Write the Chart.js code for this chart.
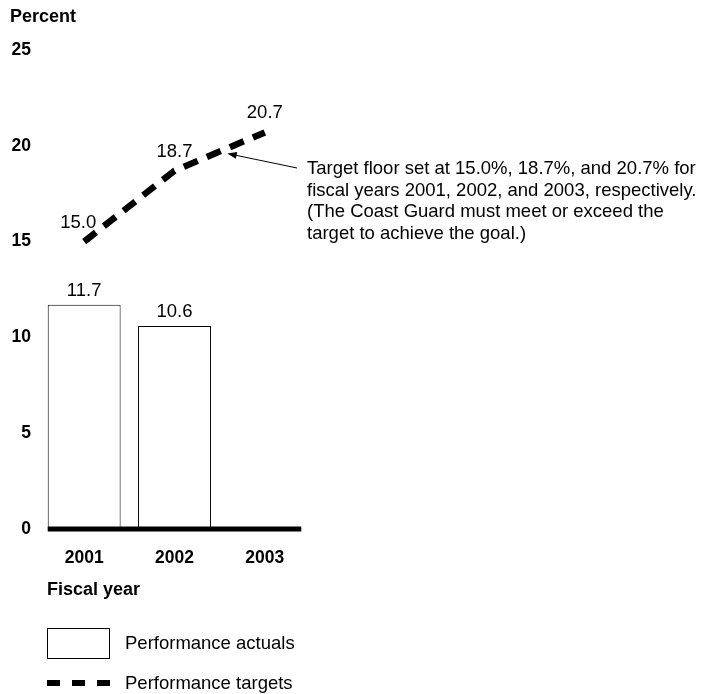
<!DOCTYPE html>
<html>
<head>
<meta charset="utf-8">
<script src="https://cdn.jsdelivr.net/npm/chart.js@4/dist/chart.umd.min.js"></script>
<style>
  body { margin:0; background:#fff; font-family:"Liberation Sans", Arial, sans-serif; color:#000; }
  #wrap { position:relative; width:701px; height:694px; }
  #chart { position:absolute; left:0; top:0; }
  .lbl { position:absolute; white-space:nowrap; }
  .bold { font-weight:bold; font-size:18px; }
  .note { font-size:18.5px; line-height:21.7px; }
</style>
</head>
<body>
<div id="wrap">
  <canvas id="chart" width="701" height="694"></canvas>
  <div class="lbl bold" style="left:10px; top:6px;">Percent</div>
  <div class="lbl bold" style="left:47px; top:579px;">Fiscal year</div>
  <div class="lbl note" style="left:307px; top:157px;">Target floor set at 15.0%, 18.7%, and 20.7% for<br>fiscal years 2001, 2002, and 2003, respectively.<br>(The Coast Guard must meet or exceed the<br>target to achieve the goal.)</div>
  <div style="position:absolute; left:47px; top:628px; width:61px; height:29px; border:1px solid #000;"></div>
  <div class="lbl note" style="left:125px; top:632px;">Performance actuals</div>
  <div style="position:absolute; left:47px; top:680px; width:13px; height:6px; background:#000;"></div>
  <div style="position:absolute; left:72px; top:680px; width:13px; height:6px; background:#000;"></div>
  <div style="position:absolute; left:97px; top:680px; width:13px; height:6px; background:#000;"></div>
  <div class="lbl note" style="left:125px; top:672px;">Performance targets</div>
</div>
<script>
// Datos
const years = ['2001', '2002', '2003'];
const actuals = [11.7, 10.6, null];
const targets = [15.0, 18.7, 20.7];
const yTicks = [0, 5, 10, 15, 20, 25];

// Etiquetas de valores, línea base y flecha
const extras = {
  id: 'extras',
  afterDatasetsDraw(chart) {
    const ctx = chart.ctx;
    const xs = chart.scales.x, ys = chart.scales.y;
    const bars = chart.getDatasetMeta(0).data;
    const pts = chart.getDatasetMeta(1).data;
    ctx.save();

    // línea de base gruesa
    const half = bars[0].width / 2;
    ctx.fillStyle = '#000';
    ctx.fillRect(bars[0].x - half, ys.getPixelForValue(0) - 2.5,
                 xs.getPixelForValue(2) + half - (bars[0].x - half), 5);

    ctx.font = '18.5px "Liberation Sans", Arial, sans-serif';
    ctx.textAlign = 'center';
    ctx.textBaseline = 'middle';
    actuals.forEach((v, i) => {
      if (v == null) return;
      ctx.fillText(v.toFixed(1), bars[i].x, bars[i].y - 14);
    });
    targets.forEach((v, i) => {
      const dx = i === 0 ? -6 : 0;
      ctx.fillText(v.toFixed(1), pts[i].x + dx, pts[i].y - 19);
    });

    // flecha
    const tx = xs.getPixelForValue(1) + (xs.getPixelForValue(2) - xs.getPixelForValue(1)) * 0.585;
    const ty = ys.getPixelForValue(19.6);
    const sx = 297, sy = 168;
    ctx.strokeStyle = '#000';
    ctx.lineWidth = 1;
    ctx.beginPath();
    ctx.moveTo(sx, sy);
    ctx.lineTo(tx + 6, ty + 1.3);
    ctx.stroke();
    const ang = Math.atan2(ty - sy, tx - sx);
    ctx.beginPath();
    ctx.moveTo(tx, ty);
    ctx.lineTo(tx - 10 * Math.cos(ang - 0.35), ty - 10 * Math.sin(ang - 0.35));
    ctx.lineTo(tx - 10 * Math.cos(ang + 0.35), ty - 10 * Math.sin(ang + 0.35));
    ctx.closePath();
    ctx.fill();
    ctx.restore();
  }
};

new Chart(document.getElementById('chart'), {
  type: 'bar',
  data: {
    labels: years,
    datasets: [{
      type: 'bar',
      label: 'Performance actuals',
      data: actuals,
      backgroundColor: '#fff',
      borderColor: '#000',
      borderWidth: 1,
      categoryPercentage: 1,
      barPercentage: 0.807,
      order: 2
    }, {
      type: 'line',
      label: 'Performance targets',
      data: targets,
      borderColor: '#000',
      borderWidth: 6.5,
      borderDash: [15, 10],
      pointRadius: 0,
      fill: false,
      tension: 0,
      order: 1
    }]
  },
  options: {
    responsive: false,
    animation: false,
    events: [],
    layout: { padding: { left: 0, right: 391, top: 50, bottom: 125 } },
    plugins: { legend: { display: false }, tooltip: { enabled: false } },
    scales: {
      x: {
        grid: { display: false, drawTicks: false },
        border: { display: false },
        ticks: { color: '#000', padding: 19, font: { family: '"Liberation Sans", Arial, sans-serif', size: 17.5, weight: 'bold' } },
        afterFit: s => { s.height = 40; }
      },
      y: {
        min: 0, max: 25,
        afterBuildTicks: s => { s.ticks = yTicks.map(v => ({ value: v })); },
        grid: { display: false, drawTicks: false },
        border: { display: false },
        ticks: { color: '#000', padding: 8, font: { family: '"Liberation Sans", Arial, sans-serif', size: 17.5, weight: 'bold' } },
        afterFit: s => { s.width = 39; }
      }
    }
  },
  plugins: [extras]
});
</script>
</body>
</html>
